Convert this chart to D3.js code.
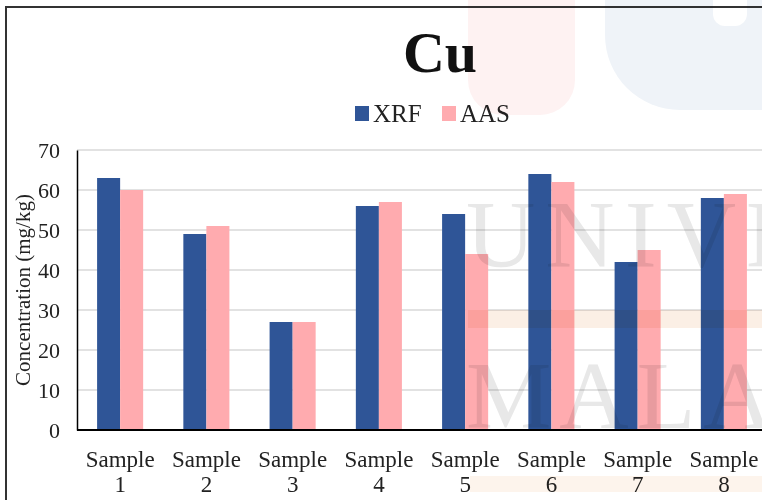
<!DOCTYPE html>
<html>
<head>
<meta charset="utf-8">
<script src="https://cdn.jsdelivr.net/npm/d3@7"></script>
<style>
  html, body { margin: 0; padding: 0; background: #fff; }
  svg { display: block; }
  text { font-family: "Liberation Serif", "Times New Roman", serif; }
</style>
</head>
<body>
<svg id="chart" width="762" height="500"></svg>
<script>
// Cu concentration per sample, measured by XRF and AAS (mg/kg)
const samples = ["Sample 1", "Sample 2", "Sample 3", "Sample 4", "Sample 5", "Sample 6", "Sample 7", "Sample 8"];
const seriesNames = ["XRF", "AAS"];
const xrfValues = [63, 49, 27, 56, 54, 64, 42, 58];
const aasValues = [60, 51, 27, 57, 44, 62, 45, 59];
const yTicks = [0, 10, 20, 30, 40, 50, 60, 70];
const colors = { XRF: "#2F5597", AAS: "#FFABAF" };
const ink = "#222";

const svg = d3.select("#chart");

// outer frame of the chart
svg.append("rect")
  .attr("x", 6).attr("y", 7).attr("width", 800).attr("height", 600)
  .attr("fill", "#fff").attr("stroke", "#333").attr("stroke-width", 2);

const plot = { left: 77, right: 767, top: 150, bottom: 430 };

const x0 = d3.scaleBand().domain(samples).range([plot.left, plot.right]).padding(0);
const x1 = d3.scaleBand().domain(seriesNames)
  .range([x0.bandwidth() * 0.233, x0.bandwidth() * 0.767]).padding(0);
const y = d3.scaleLinear().domain([0, 70]).range([plot.bottom, plot.top]);

// horizontal gridlines
svg.append("g")
  .selectAll("line").data(yTicks.filter(t => t > 0)).join("line")
  .attr("x1", plot.left).attr("x2", plot.right)
  .attr("y1", d => y(d)).attr("y2", d => y(d))
  .attr("stroke", "#d9d9d9").attr("stroke-width", 1.5);

// bars
const rows = samples.map((s, i) => ({ sample: s, XRF: xrfValues[i], AAS: aasValues[i] }));
const groups = svg.append("g").selectAll("g").data(rows).join("g")
  .attr("transform", d => `translate(${x0(d.sample)},0)`);
groups.selectAll("rect")
  .data(d => seriesNames.map(k => ({ key: k, value: d[k] })))
  .join("rect")
  .attr("x", d => x1(d.key))
  .attr("width", x1.bandwidth())
  .attr("y", d => y(d.value))
  .attr("height", d => y(0) - y(d.value))
  .attr("fill", d => colors[d.key]);

// y axis
const yAxis = d3.axisLeft(y).tickValues(yTicks).tickSize(0).tickPadding(17);
const gy = svg.append("g").attr("transform", `translate(${plot.left},0)`).call(yAxis);
gy.select(".domain").attr("stroke", "#000").attr("stroke-width", 1.5);
gy.selectAll("text").style("font-size", "22px").style("font-family", "Liberation Serif").style("fill", ink);

// x axis baseline
svg.append("line")
  .attr("x1", plot.left).attr("x2", plot.right)
  .attr("y1", y(0)).attr("y2", y(0))
  .attr("stroke", "#000").attr("stroke-width", 2);

// category labels on two lines
const xl = svg.append("g").selectAll("text").data(samples).join("text")
  .attr("x", d => x0(d) + x0.bandwidth() / 2)
  .attr("text-anchor", "middle")
  .style("font-size", "23px").style("fill", ink);
xl.append("tspan").attr("x", d => x0(d) + x0.bandwidth() / 2).attr("y", 467).text(d => d.split(" ")[0]);
xl.append("tspan").attr("x", d => x0(d) + x0.bandwidth() / 2).attr("y", 492).text(d => d.split(" ")[1]);

// y axis title
svg.append("text")
  .attr("transform", "translate(30,290) rotate(-90)")
  .attr("text-anchor", "middle")
  .style("font-size", "21px").style("fill", ink)
  .text("Concentration (mg/kg)");

// title
svg.append("text")
  .attr("x", 440).attr("y", 72)
  .attr("text-anchor", "middle")
  .style("font-size", "58px").style("font-weight", "bold")
  .style("fill", "#111")
  .text("Cu");

// legend
const legend = svg.append("g");
const legendItems = [{ key: "XRF", x: 355 }, { key: "AAS", x: 442 }];
legend.selectAll("rect").data(legendItems).join("rect")
  .attr("x", d => d.x).attr("y", 106).attr("width", 14).attr("height", 15)
  .attr("fill", d => colors[d.key]);
legend.selectAll("text").data(legendItems).join("text")
  .attr("x", d => d.x + 18).attr("y", 122)
  .style("font-size", "25px").style("fill", ink)
  .text(d => d.key);

// faint institutional backdrop, layered over the chart
const wm = svg.append("g").style("mix-blend-mode", "multiply").attr("pointer-events", "none");
wm.append("path")
  .attr("d", "M468,0 H575 V80 A35,35 0 0 1 540,115 H503 A35,35 0 0 1 468,80 Z")
  .attr("fill", "#fef2f2");
wm.append("path")
  .attr("d", "M605,0 H762 V110 H680 A75,75 0 0 1 605,35 Z")
  .attr("fill", "#eff3f8");
wm.append("path")
  .attr("d", "M713,0 H747 V14 A12,12 0 0 1 735,26 H725 A12,12 0 0 1 713,14 Z")
  .attr("fill", "#ffffff");
wm.append("rect").attr("x", 468).attr("y", 310).attr("width", 300).attr("height", 18).attr("fill", "#fbefe5");
wm.append("rect").attr("x", 470).attr("y", 476).attr("width", 300).attr("height", 16).attr("fill", "#fdf4ec");
wm.append("text").attr("x", 466).attr("y", 267)
  .style("font-size", "96px").style("letter-spacing", "10px")
  .style("fill", "#e8e8e8").text("UNIVE");
wm.append("text").attr("x", 466).attr("y", 428)
  .style("font-size", "96px").style("letter-spacing", "8px")
  .style("fill", "#e8e8e8").text("MALAY");
</script>
</body>
</html>
